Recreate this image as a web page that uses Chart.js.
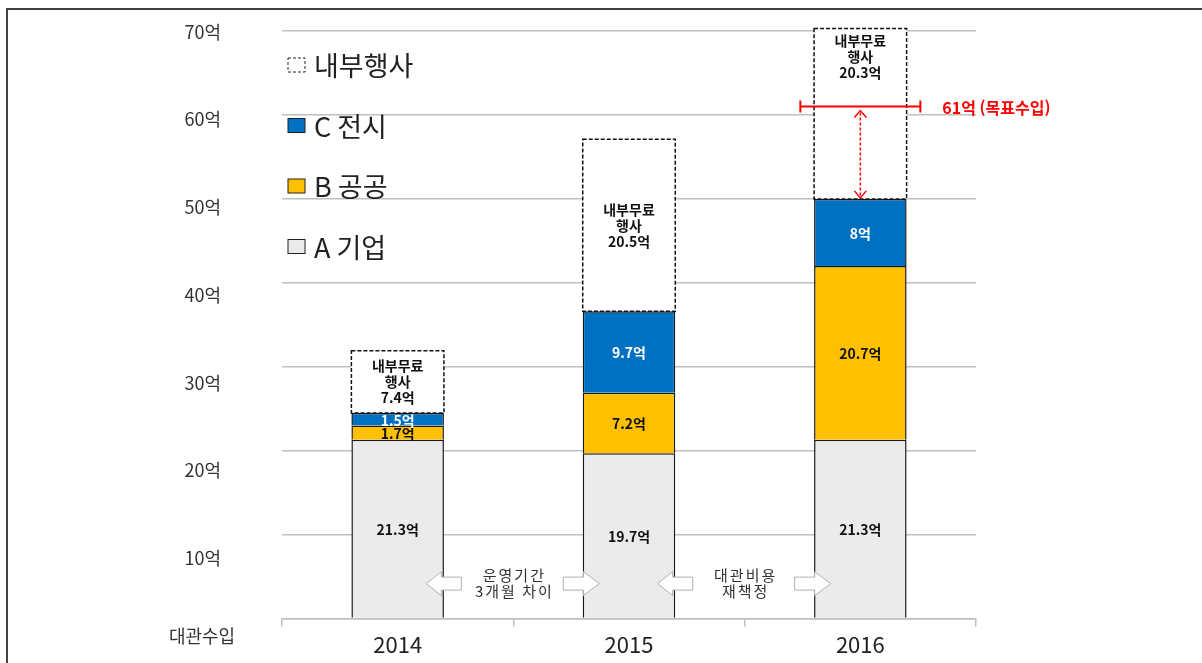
<!DOCTYPE html>
<html lang="ko">
<head>
<meta charset="utf-8">
<title>대관수입</title>
<script src="https://cdn.jsdelivr.net/npm/chart.js@4.4.1/dist/chart.umd.min.js"></script>
<style>
  html, body { margin: 0; padding: 0; background: #fff; }
  #wrap { width: 1202px; height: 663px; position: relative; }
</style>
</head>
<body>
<div id="wrap"><canvas id="revenueChart"></canvas></div>
<script>
const years = ['2014', '2015', '2016'];
const seriesNames = ['A 기업', 'B 공공', 'C 전시', '내부행사'];
const corporate = [21.3, 19.7, 21.3];     // A 기업
const publicOrg = [1.7, 7.2, 20.7];       // B 공공
const exhibition = [1.5, 9.7, 8];         // C 전시
const internalEvents = [7.4, 20.5, 20.3]; // 내부무료 행사
const yTicks = [10, 20, 30, 40, 50, 60, 70];
const internalLabel = ['내부무료', '행사'];
const targetRevenue = 61;
const targetYear = '2016';
const targetLabel = '61억 (목표수입)';
const gapNotes = [['운영기간', '3개월 차이'], ['대관비용', '재책정']];
const rowTitle = '대관수입';

const FONT = "'Noto Sans CJK KR', 'Noto Sans', sans-serif";
const fills = ['#ebebeb', '#ffc000', '#0070c0', '#ffffff'];
const textColors = ['#111', '#111', '#fff'];

function blockArrow(ctx, tipX, baseX, endX, cy) {
    const hh = 12, bh = 6.5;
    ctx.beginPath();
    ctx.moveTo(tipX, cy);
    ctx.lineTo(baseX, cy - hh);
    ctx.lineTo(baseX, cy - bh);
    ctx.lineTo(endX, cy - bh);
    ctx.lineTo(endX, cy + bh);
    ctx.lineTo(baseX, cy + bh);
    ctx.lineTo(baseX, cy + hh);
    ctx.closePath();
    ctx.fillStyle = '#fff';
    ctx.fill();
    ctx.strokeStyle = '#b0b0b0';
    ctx.lineWidth = 1;
    ctx.stroke();
}

const annotate = {
    id: 'annotate',
    beforeDraw(chart) {
        const ctx = chart.ctx;
        ctx.save();
        ctx.strokeStyle = '#000';
        ctx.lineWidth = 1.5;
        ctx.beginPath(); ctx.moveTo(6, 9); ctx.lineTo(chart.width, 9); ctx.stroke();
        ctx.strokeStyle = '#444';
        ctx.lineWidth = 2;
        ctx.beginPath(); ctx.moveTo(7, 9); ctx.lineTo(7, chart.height); ctx.stroke();
        ctx.restore();
    },
    afterDatasetsDraw(chart) {
        const ctx = chart.ctx;
        const area = chart.chartArea;
        const yScale = chart.scales.y;
        const xScale = chart.scales.x;
        const targetY = yScale.getPixelForValue(targetRevenue);
        ctx.save();
        ctx.textAlign = 'center';
        ctx.textBaseline = 'middle';

        // values inside the solid segments
        for (let i = 0; i < 3; i++) {
            const meta = chart.getDatasetMeta(i);
            meta.data.forEach((bar, j) => {
                const p = bar.getProps(['x', 'y', 'base'], true);
                ctx.font = 'bold 14px ' + FONT;
                ctx.fillStyle = textColors[i];
                ctx.fillText(chart.data.datasets[i].data[j] + '억', p.x, (p.y + p.base) / 2 + 1);
            });
        }

        // dashed internal-event boxes
        const inner = chart.getDatasetMeta(3);
        inner.data.forEach((bar, j) => {
            const p = bar.getProps(['x', 'y', 'base', 'width'], true);
            ctx.setLineDash([4, 2]);
            ctx.strokeStyle = '#111';
            ctx.lineWidth = 1.5;
            ctx.strokeRect(p.x - p.width / 2, p.y, p.width, p.base - p.y);
            ctx.setLineDash([]);
            const lines = internalLabel.concat([internalEvents[j] + '억']);
            let first;
            if (targetY > p.y && targetY < p.base) first = p.y + 12;
            else first = (p.y + p.base) / 2 - 16;
            ctx.font = 'bold 14px ' + FONT;
            ctx.fillStyle = '#111';
            lines.forEach((t, k) => ctx.fillText(t, p.x, first + k * 16));
        });

        // target line and gap arrow
        const ti = years.indexOf(targetYear);
        const tx = chart.getDatasetMeta(3).data[ti].x;
        const cTop = chart.getDatasetMeta(2).data[ti].y;
        ctx.strokeStyle = '#ff0000';
        ctx.fillStyle = '#ff0000';
        ctx.lineWidth = 2;
        ctx.beginPath();
        ctx.moveTo(tx - 60, targetY); ctx.lineTo(tx + 60, targetY);
        ctx.moveTo(tx - 60, targetY - 6); ctx.lineTo(tx - 60, targetY + 6);
        ctx.moveTo(tx + 60, targetY - 6); ctx.lineTo(tx + 60, targetY + 6);
        ctx.stroke();
        ctx.textAlign = 'left';
        ctx.font = 'bold 16px ' + FONT;
        ctx.fillText(targetLabel, tx + 82, targetY + 1);

        const a0 = targetY + 4, a1 = cTop - 1;
        ctx.lineWidth = 1.5;
        ctx.setLineDash([3, 2]);
        ctx.beginPath(); ctx.moveTo(tx, a0 + 2); ctx.lineTo(tx, a1 - 2); ctx.stroke();
        ctx.setLineDash([]);
        ctx.beginPath();
        ctx.moveTo(tx - 6, a0 + 7); ctx.lineTo(tx, a0); ctx.lineTo(tx + 6, a0 + 7);
        ctx.moveTo(tx - 6, a1 - 7); ctx.lineTo(tx, a1); ctx.lineTo(tx + 6, a1 - 7);
        ctx.stroke();

        // notes between the bars
        const cy = area.bottom - 35;
        gapNotes.forEach((note, j) => {
            const c = (xScale.getPixelForValue(j) + xScale.getPixelForValue(j + 1)) / 2;
            blockArrow(ctx, c - 87, c - 72, c - 52, cy);
            blockArrow(ctx, c + 86, c + 70, c + 50, cy);
            ctx.textAlign = 'center';
            ctx.fillStyle = '#333';
            ctx.font = '15px ' + FONT;
            ctx.letterSpacing = '2px';
            ctx.fillText(note[0], c + 1, cy - 8);
            ctx.fillText(note[1], c + 1, cy + 8);
            ctx.letterSpacing = '0px';
        });

        // row title under the axis labels
        ctx.fillStyle = '#333';
        ctx.font = '18px ' + FONT;
        ctx.fillText(rowTitle, area.left - 80, area.bottom + 18);

        // legend inside the plot, top-left
        [3, 2, 1, 0].forEach((i, k) => {
            const bx = area.left + 6;
            const by = area.top + 34 + k * 60.5;
            ctx.lineWidth = 1;
            if (i === 3) {
                ctx.setLineDash([3, 2]);
                ctx.strokeStyle = '#222';
                ctx.strokeRect(bx, by - 7, 17, 14);
                ctx.setLineDash([]);
            } else {
                ctx.fillStyle = fills[i];
                ctx.fillRect(bx, by - 7, 17, 14);
                ctx.strokeStyle = '#222';
                ctx.strokeRect(bx, by - 7, 17, 14);
            }
            ctx.textAlign = 'left';
            ctx.fillStyle = '#222';
            ctx.font = '27px ' + FONT;
            ctx.fillText(seriesNames[i], area.left + 32, by + 1);
        });
        ctx.restore();
    }
};

const ctx = document.getElementById('revenueChart').getContext('2d');
const chart = new Chart(ctx, {
    type: 'bar',
    data: {
        labels: years,
        datasets: [
            { label: seriesNames[0], data: corporate, backgroundColor: fills[0], borderColor: '#1a1a1a', borderWidth: 1.5 },
            { label: seriesNames[1], data: publicOrg, backgroundColor: fills[1], borderColor: '#1a1a1a', borderWidth: 1.5 },
            { label: seriesNames[2], data: exhibition, backgroundColor: fills[2], borderColor: '#1a1a1a', borderWidth: 1.5 },
            { label: seriesNames[3], data: internalEvents, backgroundColor: fills[3], borderWidth: 0, clip: false }
        ]
    },
    options: {
        responsive: true,
        maintainAspectRatio: false,
        animation: false,
        categoryPercentage: 1,
        barPercentage: 0.4,
        layout: { padding: { left: 0, right: 226, top: 31, bottom: 0 } },
        plugins: {
            legend: { display: false },
            tooltip: { enabled: false }
        },
        scales: {
            x: {
                stacked: true,
                grid: { display: true, drawOnChartArea: false, drawTicks: true, tickLength: 8, color: '#bfbfbf', lineWidth: 1.5, offset: true },
                border: { color: '#bfbfbf', width: 1.5 },
                ticks: { padding: 5, color: '#222', font: { family: FONT, size: 22 } }
            },
            y: {
                stacked: true,
                min: 0,
                max: 70,
                ticks: { display: false, stepSize: 10 },
                grid: { color: '#bfbfbf', lineWidth: 1.5, drawTicks: false },
                border: { display: false }
            },
            yLabels: {
                position: 'left',
                min: 3.13,
                max: 70.1,
                grid: { display: true, drawOnChartArea: false, drawTicks: true, tickLength: 61, color: 'rgba(0,0,0,0)' },
                border: { display: false },
                afterBuildTicks: s => { s.ticks = yTicks.map(v => ({ value: v })); },
                afterFit: s => { s.width = 282; },
                ticks: {
                    padding: 0,
                    color: '#333',
                    font: { family: FONT, size: 18 },
                    callback: v => v + '억'
                }
            }
        }
    },
    plugins: [annotate]
});
</script>
</body>
</html>
